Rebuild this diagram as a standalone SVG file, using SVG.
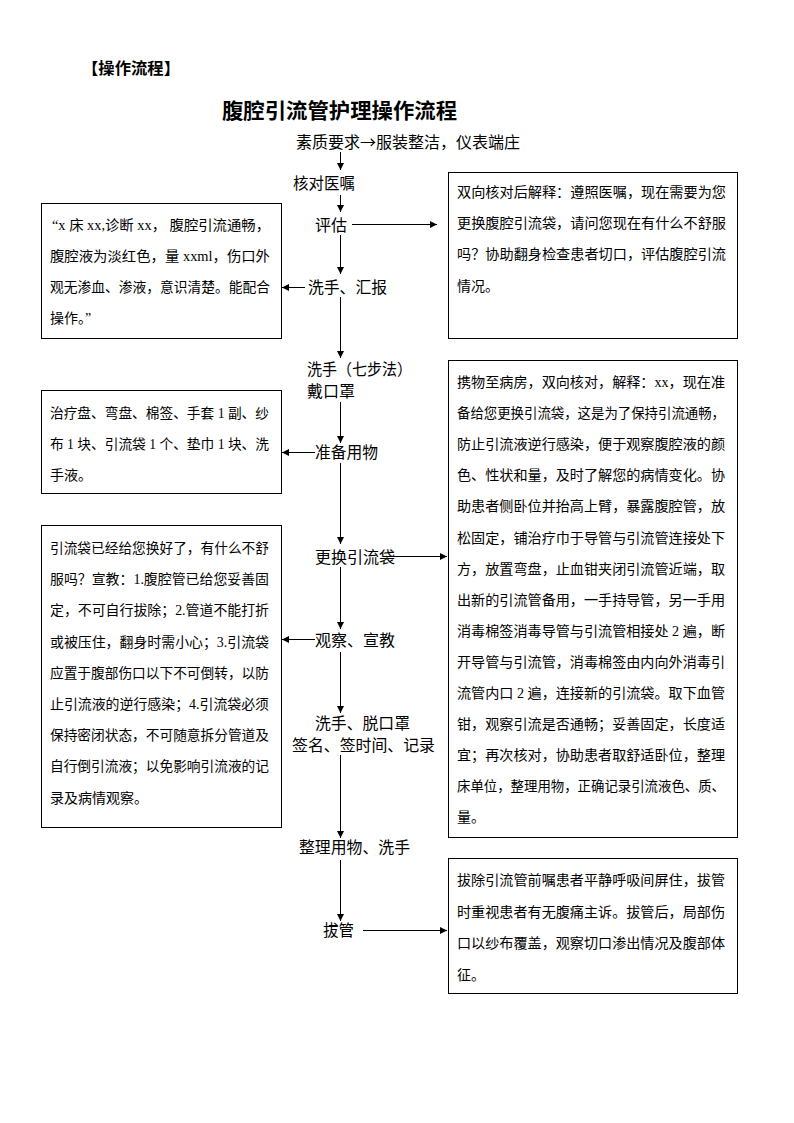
<svg xmlns="http://www.w3.org/2000/svg" width="794" height="1123" viewBox="0 0 794 1123">
<style>
.bg{fill:#fff}
.box{fill:#fff;stroke:#000;stroke-width:1}
.lbl{font-family:"Noto Sans CJK SC","Noto Sans",sans-serif;font-size:16px;fill:#000}
.txt{font-family:"Liberation Serif","Noto Sans CJK SC",serif;font-size:14px;fill:#000}
.hdr{font-family:"Noto Sans CJK SC",sans-serif;font-weight:700;fill:#000}
.ln{stroke:#000;stroke-width:1;fill:none;marker-end:url(#ah)}
</style>
<defs>
<marker id="ah" markerUnits="userSpaceOnUse" markerWidth="8" markerHeight="8" refX="7" refY="4" orient="auto">
<path d="M0,0.5 L7,4 L0,7.5 z" fill="#000"/>
</marker>
</defs>
<rect class="bg" x="0" y="0" width="794" height="1123"/>

<g id="header">
<text class="hdr" x="82" y="74" font-size="16" textLength="98" lengthAdjust="spacingAndGlyphs">【操作流程】</text>
<text class="hdr" x="222" y="118" font-size="21" textLength="235" lengthAdjust="spacingAndGlyphs">腹腔引流管护理操作流程</text>
</g>

<g id="connectors">
<line class="ln" x1="340.5" y1="152" x2="340.5" y2="170"/>
<line class="ln" x1="340.5" y1="195" x2="340.5" y2="212"/>
<line class="ln" x1="352" y1="224.5" x2="437" y2="224.5"/>
<line class="ln" x1="340.5" y1="235" x2="340.5" y2="274"/>
<line class="ln" x1="305" y1="287.5" x2="282" y2="287.5"/>
<line class="ln" x1="340.5" y1="297" x2="340.5" y2="358"/>
<line class="ln" x1="340.5" y1="402" x2="340.5" y2="443"/>
<line class="ln" x1="315" y1="452.5" x2="282" y2="452.5"/>
<line class="ln" x1="340.5" y1="463" x2="340.5" y2="544"/>
<line class="ln" x1="383" y1="556.5" x2="447" y2="556.5"/>
<line class="ln" x1="340.5" y1="567" x2="340.5" y2="629"/>
<line class="ln" x1="315" y1="639.5" x2="282" y2="639.5"/>
<line class="ln" x1="340.5" y1="652" x2="340.5" y2="713"/>
<line class="ln" x1="340.5" y1="755" x2="340.5" y2="838"/>
<line class="ln" x1="340.5" y1="860" x2="340.5" y2="921"/>
<line class="ln" x1="363" y1="930.5" x2="447" y2="930.5"/>
</g>

<g id="n-suzhi"><text class="lbl" x="296" y="148" textLength="224" lengthAdjust="spacingAndGlyphs">素质要求→服装整洁，仪表端庄</text></g>
<g id="n-hedui"><text class="lbl" x="293" y="189" textLength="62" lengthAdjust="spacingAndGlyphs">核对医嘱</text></g>
<g id="n-pinggu"><text class="lbl" x="315" y="231" textLength="32" lengthAdjust="spacingAndGlyphs">评估</text></g>
<g id="n-xishou-huibao"><text class="lbl" x="308" y="293" textLength="79" lengthAdjust="spacingAndGlyphs">洗手、汇报</text></g>
<g id="n-qibufa">
<text class="lbl" x="307" y="375" font-size="15" textLength="105" lengthAdjust="spacingAndGlyphs">洗手（七步法）</text>
<text class="lbl" x="307" y="397" font-size="15" textLength="48" lengthAdjust="spacingAndGlyphs">戴口罩</text>
</g>
<g id="n-zhunbei"><text class="lbl" x="315" y="458" textLength="63" lengthAdjust="spacingAndGlyphs">准备用物</text></g>
<g id="n-genghuan"><text class="lbl" x="315" y="563" textLength="80" lengthAdjust="spacingAndGlyphs">更换引流袋</text></g>
<g id="n-guancha"><text class="lbl" x="315" y="646" textLength="80" lengthAdjust="spacingAndGlyphs">观察、宣教</text></g>
<g id="n-qianming">
<text class="lbl" x="315" y="729" textLength="95" lengthAdjust="spacingAndGlyphs">洗手、脱口罩</text>
<text class="lbl" x="292" y="751" textLength="143" lengthAdjust="spacingAndGlyphs">签名、签时间、记录</text>
</g>
<g id="n-zhengli"><text class="lbl" x="299" y="853" textLength="111" lengthAdjust="spacingAndGlyphs">整理用物、洗手</text></g>
<g id="n-baguan"><text class="lbl" x="323" y="936" textLength="31" lengthAdjust="spacingAndGlyphs">拔管</text></g>

<g id="box-explain">
<rect class="box" x="448.5" y="172.5" width="289" height="166"/>
<text class="txt" x="457" y="197" textLength="269" lengthAdjust="spacingAndGlyphs">双向核对后解释：遵照医嘱，现在需要为您</text>
<text class="txt" x="457" y="228" textLength="269" lengthAdjust="spacingAndGlyphs">更换腹腔引流袋，请问您现在有什么不舒服</text>
<text class="txt" x="457" y="259" textLength="269" lengthAdjust="spacingAndGlyphs">吗？协助翻身检查患者切口，评估腹腔引流</text>
<text class="txt" x="457" y="291">情况。</text>
</g>

<g id="box-report">
<rect class="box" x="41.5" y="203.5" width="240" height="135"/>
<text class="txt" x="52" y="230" textLength="218" lengthAdjust="spacingAndGlyphs">“x 床 xx,诊断 xx，  腹腔引流通畅，</text>
<text class="txt" x="50" y="261" textLength="220" lengthAdjust="spacingAndGlyphs">腹腔液为淡红色，量 xxml，伤口外</text>
<text class="txt" x="50" y="292" textLength="220" lengthAdjust="spacingAndGlyphs">观无渗血、渗液，意识清楚。能配合</text>
<text class="txt" x="50" y="323">操作。”</text>
</g>

<g id="box-items">
<rect class="box" x="41.5" y="390.5" width="240" height="103"/>
<text class="txt" x="50" y="418" textLength="219" lengthAdjust="spacingAndGlyphs">治疗盘、弯盘、棉签、手套 1 副、纱</text>
<text class="txt" x="50" y="449" textLength="219" lengthAdjust="spacingAndGlyphs">布 1 块、引流袋 1 个、垫巾 1 块、洗</text>
<text class="txt" x="50" y="480">手液。</text>
</g>

<g id="box-change">
<rect class="box" x="448.5" y="360.5" width="289" height="477"/>
<text class="txt" x="457" y="387" textLength="268" lengthAdjust="spacingAndGlyphs">携物至病房，双向核对，解释：xx，现在准</text>
<text class="txt" x="457" y="418.1" textLength="268" lengthAdjust="spacingAndGlyphs">备给您更换引流袋，这是为了保持引流通畅，</text>
<text class="txt" x="457" y="449.2" textLength="268" lengthAdjust="spacingAndGlyphs">防止引流液逆行感染，便于观察腹腔液的颜</text>
<text class="txt" x="457" y="480.3" textLength="268" lengthAdjust="spacingAndGlyphs">色、性状和量，及时了解您的病情变化。协</text>
<text class="txt" x="457" y="511.4" textLength="268" lengthAdjust="spacingAndGlyphs">助患者侧卧位并抬高上臂，暴露腹腔管，放</text>
<text class="txt" x="457" y="542.5" textLength="268" lengthAdjust="spacingAndGlyphs">松固定，铺治疗巾于导管与引流管连接处下</text>
<text class="txt" x="457" y="573.6" textLength="268" lengthAdjust="spacingAndGlyphs">方，放置弯盘，止血钳夹闭引流管近端，取</text>
<text class="txt" x="457" y="604.7" textLength="268" lengthAdjust="spacingAndGlyphs">出新的引流管备用，一手持导管，另一手用</text>
<text class="txt" x="457" y="635.8" textLength="268" lengthAdjust="spacingAndGlyphs">消毒棉签消毒导管与引流管相接处 2 遍，断</text>
<text class="txt" x="457" y="666.9" textLength="268" lengthAdjust="spacingAndGlyphs">开导管与引流管，消毒棉签由内向外消毒引</text>
<text class="txt" x="457" y="698" textLength="268" lengthAdjust="spacingAndGlyphs">流管内口 2 遍，连接新的引流袋。取下血管</text>
<text class="txt" x="457" y="729.1" textLength="268" lengthAdjust="spacingAndGlyphs">钳，观察引流是否通畅；妥善固定，长度适</text>
<text class="txt" x="457" y="760.2" textLength="268" lengthAdjust="spacingAndGlyphs">宜；再次核对，协助患者取舒适卧位，整理</text>
<text class="txt" x="457" y="791.3" textLength="268" lengthAdjust="spacingAndGlyphs">床单位，整理用物，正确记录引流液色、质、</text>
<text class="txt" x="457" y="822.4">量。</text>
</g>

<g id="box-educate">
<rect class="box" x="41.5" y="525.5" width="240" height="302"/>
<text class="txt" x="50" y="553" textLength="219" lengthAdjust="spacingAndGlyphs">引流袋已经给您换好了，有什么不舒</text>
<text class="txt" x="50" y="584.2" textLength="219" lengthAdjust="spacingAndGlyphs">服吗？宣教：1.腹腔管已给您妥善固</text>
<text class="txt" x="50" y="615.4" textLength="219" lengthAdjust="spacingAndGlyphs">定，不可自行拔除；2.管道不能打折</text>
<text class="txt" x="50" y="646.6" textLength="219" lengthAdjust="spacingAndGlyphs">或被压住，翻身时需小心；3.引流袋</text>
<text class="txt" x="50" y="677.8" textLength="219" lengthAdjust="spacingAndGlyphs">应置于腹部伤口以下不可倒转，以防</text>
<text class="txt" x="50" y="709" textLength="219" lengthAdjust="spacingAndGlyphs">止引流液的逆行感染；4.引流袋必须</text>
<text class="txt" x="50" y="740.2" textLength="219" lengthAdjust="spacingAndGlyphs">保持密闭状态，不可随意拆分管道及</text>
<text class="txt" x="50" y="771.4" textLength="219" lengthAdjust="spacingAndGlyphs">自行倒引流液；以免影响引流液的记</text>
<text class="txt" x="50" y="802.6">录及病情观察。</text>
</g>

<g id="box-remove">
<rect class="box" x="448.5" y="858.5" width="289" height="135"/>
<text class="txt" x="457" y="885" textLength="268" lengthAdjust="spacingAndGlyphs">拔除引流管前嘱患者平静呼吸间屏住，拔管</text>
<text class="txt" x="457" y="916.5" textLength="268" lengthAdjust="spacingAndGlyphs">时重视患者有无腹痛主诉。拔管后，局部伤</text>
<text class="txt" x="457" y="948" textLength="268" lengthAdjust="spacingAndGlyphs">口以纱布覆盖，观察切口渗出情况及腹部体</text>
<text class="txt" x="457" y="979.5">征。</text>
</g>
</svg>
